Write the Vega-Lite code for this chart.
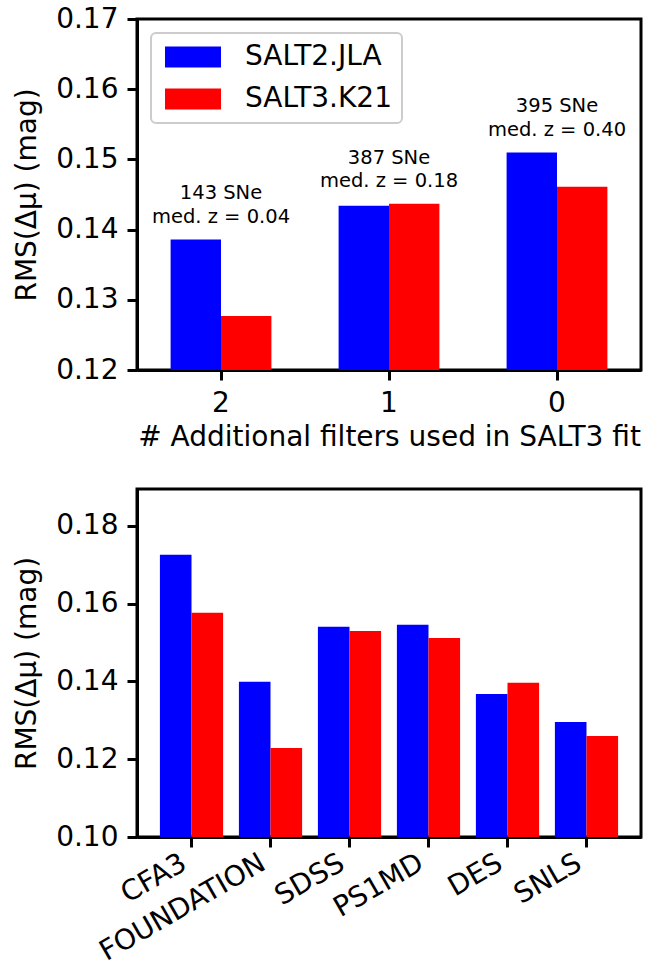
{
  "$schema": "https://vega.github.io/schema/vega-lite/v6.json",
  "background": "white",
  "padding": {"left": 12, "top": 3, "right": 5, "bottom": 0},
  "config": {
    "font": "DejaVu Sans",
    "view": {"stroke": "black", "strokeWidth": 3},
    "axis": {
      "domainColor": "black", "domainWidth": 3,
      "tickColor": "black", "tickWidth": 3, "tickSize": 10,
      "labelFontSize": 28, "labelColor": "black", "labelFont": "DejaVu Sans",
      "titleFontSize": 28, "titleFontWeight": "normal", "titleColor": "black", "titleFont": "DejaVu Sans",
      "grid": false, "labelPadding": 9, "zindex": 1, "labelLimit": 400
    },
    "legend": {
      "orient": "top-left", "offset": 14, "title": null,
      "labelFontSize": 28, "labelFont": "DejaVu Sans", "labelColor": "black",
      "symbolType": "M-1,-1.05H4.6V1.05H-1Z", "symbolSize": 400, "symbolStrokeWidth": 0,
      "labelOffset": 56, "rowPadding": 14, "padding": 10,
      "strokeColor": "#cccccc", "strokeWidth": 2, "cornerRadius": 5,
      "fillColor": "rgba(255,255,255,0.8)", "symbolOpacity": 1
    }
  },
  "datasets": {
    "top": [
      {"filters": "2", "model": "SALT2.JLA", "rms": 0.1386},
      {"filters": "2", "model": "SALT3.K21", "rms": 0.1277},
      {"filters": "1", "model": "SALT2.JLA", "rms": 0.1434},
      {"filters": "1", "model": "SALT3.K21", "rms": 0.1437},
      {"filters": "0", "model": "SALT2.JLA", "rms": 0.1510},
      {"filters": "0", "model": "SALT3.K21", "rms": 0.1461}
    ],
    "notes": [
      {"filters": "2", "top": 0.1386, "label": "143 SNe\nmed. z = 0.04"},
      {"filters": "1", "top": 0.1437, "label": "387 SNe\nmed. z = 0.18"},
      {"filters": "0", "top": 0.1510, "label": "395 SNe\nmed. z = 0.40"}
    ],
    "bottom": [
      {"survey": "CFA3", "model": "SALT2.JLA", "rms": 0.1726},
      {"survey": "CFA3", "model": "SALT3.K21", "rms": 0.1577},
      {"survey": "FOUNDATION", "model": "SALT2.JLA", "rms": 0.1399},
      {"survey": "FOUNDATION", "model": "SALT3.K21", "rms": 0.1229},
      {"survey": "SDSS", "model": "SALT2.JLA", "rms": 0.1541},
      {"survey": "SDSS", "model": "SALT3.K21", "rms": 0.1530},
      {"survey": "PS1MD", "model": "SALT2.JLA", "rms": 0.1546},
      {"survey": "PS1MD", "model": "SALT3.K21", "rms": 0.1512},
      {"survey": "DES", "model": "SALT2.JLA", "rms": 0.1368},
      {"survey": "DES", "model": "SALT3.K21", "rms": 0.1397},
      {"survey": "SNLS", "model": "SALT2.JLA", "rms": 0.1296},
      {"survey": "SNLS", "model": "SALT3.K21", "rms": 0.1260}
    ]
  },
  "resolve": {"scale": {"color": "independent", "xOffset": "independent"}, "legend": {"color": "independent"}},
  "spacing": 34,
  "vconcat": [
    {
      "width": 504,
      "height": 351,
      "layer": [
        {
          "data": {"name": "top"},
          "mark": {"type": "bar", "clip": true},
          "encoding": {
            "x": {
              "field": "filters", "type": "nominal", "sort": ["2", "1", "0"],
              "scale": {"paddingInner": 0.4, "paddingOuter": 0.2},
              "axis": {"title": "# Additional filters used in SALT3 fit", "labelAngle": 0, "titlePadding": 6}
            },
            "xOffset": {
              "field": "model", "type": "nominal", "sort": ["SALT2.JLA", "SALT3.K21"],
              "scale": {"paddingInner": 0, "paddingOuter": 0}
            },
            "y": {
              "field": "rms", "type": "quantitative",
              "scale": {"domain": [0.12, 0.17], "nice": false, "zero": false},
              "axis": {"title": "RMS(Δμ) (mag)", "values": [0.12, 0.13, 0.14, 0.15, 0.16, 0.17], "format": ".2f", "titlePadding": 14}
            },
            "color": {
              "field": "model", "type": "nominal",
              "scale": {"domain": ["SALT2.JLA", "SALT3.K21"], "range": ["#0000ff", "#ff0000"]},
              "legend": {"orient": "top-left"}
            }
          }
        },
        {
          "data": {"name": "notes"},
          "mark": {"type": "text", "fontSize": 19.5, "lineBreak": "\n", "lineHeight": 23.5, "baseline": "bottom", "align": "center", "dy": -36, "color": "black"},
          "encoding": {
            "x": {"field": "filters", "type": "nominal", "sort": ["2", "1", "0"]},
            "y": {"field": "top", "type": "quantitative"},
            "text": {"field": "label"}
          }
        }
      ]
    },
    {
      "width": 504,
      "height": 348,
      "data": {"name": "bottom"},
      "mark": {"type": "bar", "clip": true},
      "encoding": {
        "x": {
          "field": "survey", "type": "nominal",
          "sort": ["CFA3", "FOUNDATION", "SDSS", "PS1MD", "DES", "SNLS"],
          "scale": {"paddingInner": 0.2, "paddingOuter": 0.29},
          "axis": {"title": null, "labelAngle": -30, "labelAlign": "right", "labelBaseline": "bottom", "labelPadding": 26, "labelOverlap": false}
        },
        "xOffset": {
          "field": "model", "type": "nominal", "sort": ["SALT2.JLA", "SALT3.K21"],
          "scale": {"paddingInner": 0, "paddingOuter": 0}
        },
        "y": {
          "field": "rms", "type": "quantitative",
          "scale": {"domain": [0.10, 0.1895], "nice": false, "zero": false},
          "axis": {"title": "RMS(Δμ) (mag)", "values": [0.10, 0.12, 0.14, 0.16, 0.18], "format": ".2f", "titlePadding": 14}
        },
        "color": {
          "field": "model", "type": "nominal",
          "scale": {"domain": ["SALT2.JLA", "SALT3.K21"], "range": ["#0000ff", "#ff0000"]},
          "legend": null
        }
      }
    }
  ]
}
